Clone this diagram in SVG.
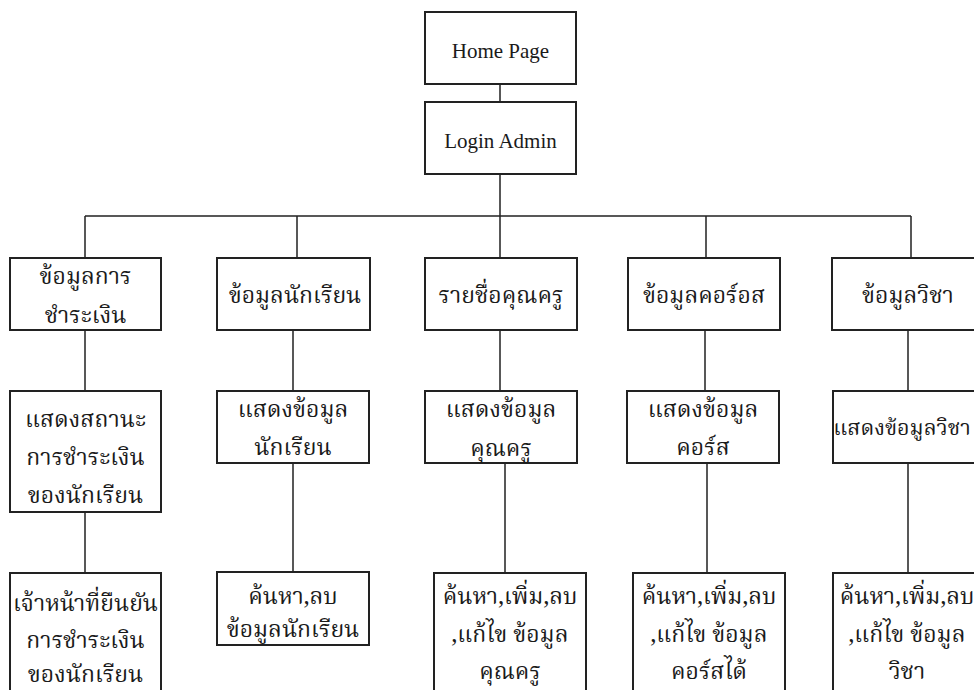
<svg xmlns="http://www.w3.org/2000/svg" width="974" height="690" viewBox="0 0 974 690">
<style>
.box{fill:#fff;stroke:#222;stroke-width:2}
.ln{fill:none;stroke:#222;stroke-width:1.5}
.en{font-family:"Liberation Serif","Times New Roman",serif;font-size:21px;fill:#1a1a1a;text-anchor:middle}
.th{font-family:"Noto Serif Thai","Noto Sans Thai","Liberation Serif","DejaVu Sans",serif;font-size:23px;fill:#1a1a1a;text-anchor:middle}
</style>
<rect width="974" height="690" fill="#fff"/>
<g id="connectors" class="ln">
<path d="M500 84V102M500 174V216M85 216H911M85 216V258M297 216V258M500 216V258M706 216V258M911 216V258"/>
<path d="M85 330V391M293 330V391M500 330V391M705 330V391M908 330V391"/>
<path d="M85 512V573M293 463V572M505 463V573M707 463V573M908 463V573"/>
</g>
<g id="home"><rect class="box" x="425" y="12" width="151" height="72"/><text class="en" x="500.5" y="58">Home Page</text></g>
<g id="login"><rect class="box" x="425" y="102" width="151" height="72"/><text class="en" x="500.5" y="148">Login Admin</text></g>

<g id="payment"><rect class="box" x="10" y="258" width="151" height="72"/><text class="th" x="85.5" y="284">ข้อมูลการ</text><text class="th" x="85.5" y="323">ชำระเงิน</text></g>
<g id="student"><rect class="box" x="217" y="258" width="153" height="72"/><text class="th" x="295" y="303">ข้อมูลนักเรียน</text></g>
<g id="teacher"><rect class="box" x="425" y="258" width="152" height="72"/><text class="th" x="501" y="303">รายชื่อคุณครู</text></g>
<g id="course"><rect class="box" x="628" y="258" width="152" height="72"/><text class="th" x="704" y="303">ข้อมูลคอร์อส</text></g>
<g id="subject"><rect class="box" x="832" y="258" width="152" height="72"/><text class="th" x="908" y="303">ข้อมูลวิชา</text></g>

<g id="payment-status"><rect class="box" x="10" y="391" width="151" height="121"/><text class="th" x="85.5" y="427">แสดงสถานะ</text><text class="th" x="85.5" y="465">การชำระเงิน</text><text class="th" x="85.5" y="503">ของนักเรียน</text></g>
<g id="student-show"><rect class="box" x="217" y="391" width="152" height="72"/><text class="th" x="293" y="417">แสดงข้อมูล</text><text class="th" x="293" y="455">นักเรียน</text></g>
<g id="teacher-show"><rect class="box" x="425" y="391" width="152" height="72"/><text class="th" x="501" y="417">แสดงข้อมูล</text><text class="th" x="501" y="456">คุณครู</text></g>
<g id="course-show"><rect class="box" x="627" y="391" width="152" height="72"/><text class="th" x="703" y="417">แสดงข้อมูล</text><text class="th" x="703" y="455">คอร์ส</text></g>
<g id="subject-show"><rect class="box" x="833" y="391" width="152" height="72"/><text class="th" x="902" y="435" style="font-size:21.5px">แสดงข้อมูลวิชา</text></g>

<g id="payment-confirm"><rect class="box" x="10" y="573" width="151" height="130"/><text class="th" x="85.5" y="611">เจ้าหน้าที่ยืนยัน</text><text class="th" x="85.5" y="648">การชำระเงิน</text><text class="th" x="85.5" y="682">ของนักเรียน</text></g>
<g id="student-edit"><rect class="box" x="217" y="572" width="152" height="73"/><text class="th" x="293" y="604">ค้นหา,ลบ</text><text class="th" x="293" y="637">ข้อมูลนักเรียน</text></g>
<g id="teacher-edit"><rect class="box" x="434" y="573" width="152" height="130"/><text class="th" x="510" y="604">ค้นหา,เพิ่ม,ลบ</text><text class="th" x="510" y="642">,แก้ไข ข้อมูล</text><text class="th" x="510" y="679">คุณครู</text></g>
<g id="course-edit"><rect class="box" x="633" y="573" width="152" height="130"/><text class="th" x="709" y="604">ค้นหา,เพิ่ม,ลบ</text><text class="th" x="709" y="642">,แก้ไข ข้อมูล</text><text class="th" x="709" y="679">คอร์สได้</text></g>
<g id="subject-edit"><rect class="box" x="833" y="573" width="152" height="130"/><text class="th" x="907" y="604">ค้นหา,เพิ่ม,ลบ</text><text class="th" x="907" y="642">,แก้ไข ข้อมูล</text><text class="th" x="907" y="679">วิชา</text></g>
</svg>
